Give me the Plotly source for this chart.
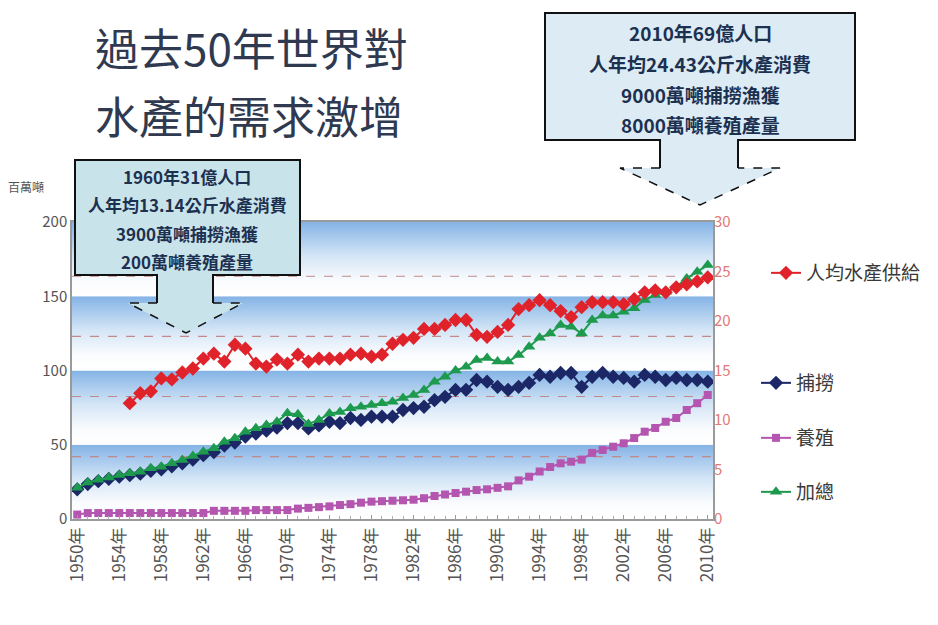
import plotly.graph_objects as go

# ---------------- data ----------------
years = list(range(1950, 2011))

capture = [20, 23.5, 25.5, 27, 28.5, 29.5, 30.5, 32.5, 33.5, 35.5,
           37.5, 40, 43, 45, 49.5, 51.5, 55.5, 57.5, 59.5, 61.5,
           64.6, 64.6, 61, 63, 65.5, 64.6, 68, 66.7, 68.9, 68.9,
           68.9, 73.4, 74.7, 75.6, 80, 82.3, 86.9, 87, 93.6, 92.5,
           89, 87, 89, 91.6, 97, 95.8, 98.3, 98.3, 89, 95.8,
           98.3, 95.8, 95, 92.5, 97, 95.8, 93.6, 95, 93.6, 93.6, 92.5]

aquaculture = [3, 4, 4, 4, 4, 4, 4, 4, 4, 4,
               4, 4, 4, 5.5, 5.5, 5.5, 5.5, 6, 6, 6,
               6, 7, 7.5, 8, 8.5, 9.4, 10, 11, 11.7, 12,
               12.3, 12.6, 13, 14, 15.5, 16.5, 17.5, 18.4, 19.5, 20,
               21, 22, 26, 28.5, 32, 35, 37.5, 38.6, 40, 44.5,
               46.5, 48.7, 51, 54.5, 58.8, 61.3, 65.5, 68, 73.4, 78, 83.5]

total = [21, 24.5, 26.5, 28, 29.6, 30.8, 31.9, 34.1, 35.2, 37.5,
         39.7, 42.4, 45.3, 47.6, 52, 54.3, 58.8, 61.1, 63.3, 65.5,
         71.2, 70.5, 64, 66.7, 71, 72, 74.6, 75.6, 76.8, 78,
         79, 81.5, 83.5, 86.9, 92.5, 95.8, 100, 102.6, 107, 108.4,
         106, 106, 110.4, 116, 122, 125, 130.6, 129.5, 125, 134,
         137, 137, 139.6, 142, 147.5, 150.8, 153, 156.4, 162, 166.5, 171]

per_capita = [None, None, None, None, None, 11.7, 12.7, 12.9, 14.2, 14.1,
              14.8, 15.2, 16.2, 16.7, 15.9, 17.6, 17.2, 15.7, 15.4, 16.1,
              15.7, 16.6, 15.9, 16.2, 16.2, 16.2, 16.6, 16.7, 16.4, 16.6,
              17.7, 18.1, 18.3, 19.2, 19.2, 19.6, 20.1, 20.1, 18.6, 18.4,
              18.9, 19.6, 21.2, 21.6, 22.1, 21.6, 21.0, 20.4, 21.4, 21.9,
              21.9, 21.9, 21.7, 22.2, 22.9, 23.1, 22.9, 23.4, 23.7, 24.0, 24.4]

tick_years = list(range(1950, 2011, 4))
tick_text = [f"{y}年" for y in tick_years]

series_names = ["捕撈", "養殖", "加總", "人均水產供給"]

title_lines = ["過去50年世界對", "水產的需求激增"]
box_left_lines = ["1960年31億人口", "人年均13.14公斤水產消費", "3900萬噸捕撈漁獲", "200萬噸養殖產量"]
box_right_lines = ["2010年69億人口", "人年均24.43公斤水產消費", "9000萬噸捕撈漁獲", "8000萬噸養殖產量"]

band_edges = [0, 50, 100, 150, 200]
grid_levels = [42, 82.5, 123, 163.5]

# ---------------- layout helpers ----------------
W, H = 938, 625
L, R, T, B = 72, 713, 222, 519
FONT = "Noto Sans CJK TC"


def px(x):
    return (x - L) / (R - L)


def py(y):
    return (B - y) / (B - T)


def path(points, close=True):
    s = "M" + " L".join(f"{px(x):.5f},{py(y):.5f}" for x, y in points)
    return s + (" Z" if close else "")


fig = go.Figure()

# background gradient bands
for lo, hi in zip(band_edges[:-1], band_edges[1:]):
    fig.add_trace(go.Scatter(
        x=[1949.5, 2010.5, 2010.5, 1949.5, 1949.5], y=[lo, lo, hi, hi, lo],
        mode="none", fill="toself", showlegend=False, hoverinfo="skip",
        fillgradient=dict(type="vertical", start=lo, stop=hi,
                          colorscale=[[0, "#ffffff"], [0.2, "#fbfcfe"],
                                      [0.55, "#d3e5f6"], [1, "#84b3e5"]])))

# dashed guide lines
for g in grid_levels:
    fig.add_trace(go.Scatter(x=[1949.5, 2010.5], y=[g, g], mode="lines",
                             line=dict(color="#c08a8a", width=1.1, dash="dash"),
                             showlegend=False, hoverinfo="skip"))

fig.add_trace(go.Scatter(x=years, y=capture, name=series_names[0], mode="lines+markers",
                         line=dict(color="#1b2766", width=2),
                         marker=dict(symbol="diamond", size=11, color="#1b2766"),
                         legend="legend2"))
fig.add_trace(go.Scatter(x=years, y=aquaculture, name=series_names[1], mode="lines+markers",
                         line=dict(color="#b455b0", width=2),
                         marker=dict(symbol="square", size=8, color="#b455b0"),
                         legend="legend3"))
fig.add_trace(go.Scatter(x=years, y=total, name=series_names[2], mode="lines+markers",
                         line=dict(color="#1e9a4e", width=2),
                         marker=dict(symbol="triangle-up", size=11, color="#1e9a4e"),
                         legend="legend4"))
fig.add_trace(go.Scatter(x=years, y=per_capita, name=series_names[3], mode="lines+markers",
                         yaxis="y2", connectgaps=False,
                         line=dict(color="#e0232b", width=2),
                         marker=dict(symbol="diamond", size=11, color="#e0232b"),
                         legend="legend"))

shapes = []
# left callout
shapes.append(dict(type="path", xref="paper", yref="paper", layer="above",
                   path=path([(75, 160), (300, 160), (300, 275), (213, 275), (213, 303),
                              (243, 303), (186, 333), (128, 303), (157, 303), (157, 275), (75, 275)]),
                   fillcolor="#c9e3ea", line=dict(width=0)))
shapes.append(dict(type="path", xref="paper", yref="paper", layer="above",
                   path=path([(157, 303), (157, 275), (75, 275), (75, 160), (300, 160),
                              (300, 275), (213, 275), (213, 303)], close=False),
                   line=dict(color="#111111", width=2)))
shapes.append(dict(type="path", xref="paper", yref="paper", layer="above",
                   path=path([(157, 303), (128, 303), (186, 333), (243, 303), (213, 303)], close=False),
                   line=dict(color="#111111", width=1.5, dash="dash")))
# right callout
shapes.append(dict(type="path", xref="paper", yref="paper", layer="above",
                   path=path([(545, 13), (855, 13), (855, 140), (738, 140), (738, 168),
                              (780, 168), (700, 205), (620, 168), (660, 168), (660, 140), (545, 140)]),
                   fillcolor="#dcebf4", line=dict(width=0)))
shapes.append(dict(type="path", xref="paper", yref="paper", layer="above",
                   path=path([(660, 168), (660, 140), (545, 140), (545, 13), (855, 13),
                              (855, 140), (738, 140), (738, 168)], close=False),
                   line=dict(color="#111111", width=2)))
shapes.append(dict(type="path", xref="paper", yref="paper", layer="above",
                   path=path([(660, 168), (620, 168), (700, 205), (780, 168), (738, 168)], close=False),
                   line=dict(color="#111111", width=1.5, dash="dash")))

annotations = []
for i, t in enumerate(title_lines):
    annotations.append(dict(text=t, x=px(93), y=py(47 + 68 * i), xref="paper", yref="paper",
                            xanchor="left", yanchor="middle", showarrow=False,
                            font=dict(family=FONT, size=44, color="#2f3a50")))
for i, t in enumerate(box_left_lines):
    annotations.append(dict(text=t, x=px(187), y=py(176 + 28.5 * i), xref="paper", yref="paper",
                            xanchor="center", yanchor="middle", showarrow=False,
                            font=dict(family=FONT, size=17, color="#1c3050", weight="bold")))
for i, t in enumerate(box_right_lines):
    annotations.append(dict(text=t, x=px(700), y=py(33 + 30.5 * i), xref="paper", yref="paper",
                            xanchor="center", yanchor="middle", showarrow=False,
                            font=dict(family=FONT, size=19, color="#1c3050", weight="bold")))
annotations.append(dict(text="百萬噸", x=px(26), y=py(186), xref="paper", yref="paper",
                        xanchor="center", yanchor="middle", showarrow=False,
                        font=dict(family=FONT, size=12, color="#555555")))

leg_common = dict(xanchor="left", yanchor="middle", bgcolor="rgba(0,0,0,0)",
                  font=dict(family=FONT, size=19, color="#3a3a3a"), itemwidth=30,
                  tracegroupgap=0)

fig.update_layout(
    width=W, height=H, autosize=False,
    margin=dict(l=L, r=W - R, t=T, b=H - B, pad=0),
    paper_bgcolor="white", plot_bgcolor="white",
    font=dict(family=FONT),
    xaxis=dict(range=[1949.5, 2010.5], tickmode="array", tickvals=tick_years, ticktext=tick_text,
               tickangle=-90, tickfont=dict(size=17, color="#555555", family=FONT),
               showgrid=False, zeroline=False, showline=True, linecolor="#9a9a9a", linewidth=1.5,
               mirror=True, ticks="inside", ticklen=4, tickcolor="#9a9a9a",
               minor=dict(tickmode="linear", tick0=1950, dtick=1, ticks="inside", ticklen=3,
                          tickcolor="#b0b0b0")),
    yaxis=dict(range=[0, 200], dtick=50, showgrid=False, zeroline=False,
               showline=True, linecolor="#9a9a9a", linewidth=1.5, mirror=True,
               ticks="", tickfont=dict(size=15, color="#555555", family=FONT)),
    yaxis2=dict(range=[0, 30], dtick=5, overlaying="y", side="right", showgrid=False,
                zeroline=False, showline=False, ticks="",
                tickfont=dict(size=15, color="#e07a78", family=FONT)),
    legend=dict(x=px(766), y=py(273), **leg_common),
    legend2=dict(x=px(756), y=py(383), **leg_common),
    legend3=dict(x=px(756), y=py(438), **leg_common),
    legend4=dict(x=px(756), y=py(492), **leg_common),
    shapes=shapes, annotations=annotations,
)

fig.write_html("out.html")
